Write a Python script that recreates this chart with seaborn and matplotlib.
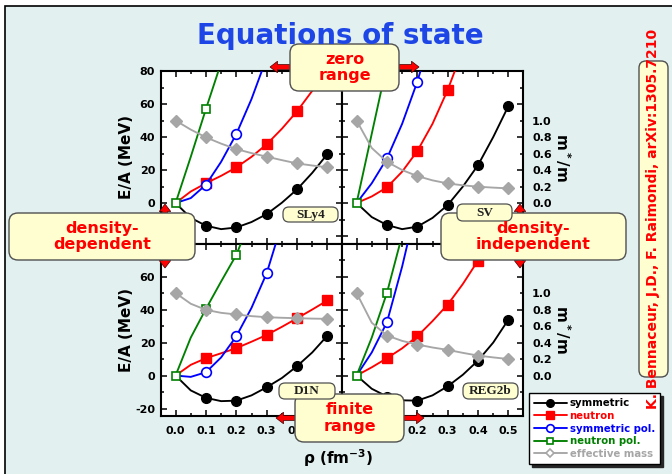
import matplotlib
matplotlib.use('Agg')
import matplotlib.pyplot as plt
import seaborn as sns
from matplotlib.patches import FancyBboxPatch, FancyArrow, Rectangle
from matplotlib.lines import Line2D
from matplotlib.ticker import MultipleLocator, FixedLocator, FormatStrFormatter

# ---------------- data ----------------
rho = [0.0, 0.05, 0.10, 0.15, 0.20, 0.25, 0.30, 0.35, 0.40, 0.45, 0.50]

sly4_sym = [0, -9, -13.7, -15.8, -14.8, -11.5, -6.7, 0.2, 8.3, 18.3, 29.7]
sly4_neu = [0, 7, 12, 16.5, 21.6, 28, 35.6, 45, 55.6, 68, 83]
sly4_sympol = [0, 3, 11.1, 25, 41.8, 63, 88, 118, 150, 185, 225]
sly4_neupol = [0, 28, 57, 85, 115, 148, 183, 220, 260, 300, 345]
sly4_mass = [1.0, 0.89, 0.796, 0.72, 0.654, 0.605, 0.562, 0.52, 0.48, 0.455, 0.433]

sv_sym = [0, -8.5, -13.3, -15.8, -14.3, -9, -1.2, 10, 23, 40, 58.8]
sv_neu = [0, 4, 9.5, 19, 31.5, 48, 68.5, 93, 120, 150, 185]
sv_sympol = [0, 12, 27, 48, 73.5, 105, 140, 180, 225, 270, 320]
sv_neupol = [0, 42, 84, 126, 168, 210, 252, 294, 336, 378, 420]
sv_mass = [1.0, 0.667, 0.50, 0.40, 0.327, 0.275, 0.238, 0.215, 0.198, 0.187, 0.178]

d1n_sym = [0, -9, -13.5, -15.5, -15.2, -12, -7.1, -1.5, 5.7, 14, 24.2]
d1n_neu = [0, 6.5, 10.5, 13.5, 16.6, 20.5, 24.6, 29.5, 34.7, 40, 45.5]
d1n_sympol = [0, -0.8, 2.0, 11, 23.8, 41, 62, 92, 125, 160, 200]
d1n_neupol = [0, 23, 40.4, 57, 73.1, 96, 115, 140, 165, 192, 220]
d1n_mass = [1.0, 0.87, 0.796, 0.76, 0.74, 0.72, 0.707, 0.70, 0.695, 0.69, 0.687]

reg_sym = [0, -8, -12.7, -15, -15.2, -12, -6.5, 0.5, 9.1, 20, 33.9]
reg_neu = [0, 5, 10.5, 16.5, 23.8, 33, 43, 55.5, 69.7, 86, 103]
reg_sympol = [0, 14, 32.3, 66, 105, 150, 200, 255, 315, 380, 450]
reg_neupol = [0, 23, 50.1, 85, 125, 170, 220, 275, 335, 400, 470]
reg_mass = [1.0, 0.64, 0.485, 0.42, 0.376, 0.34, 0.311, 0.275, 0.242, 0.22, 0.20]

model_names = ['SLy4', 'SV', 'D1N', 'REG2b']
series_labels = ['symmetric', 'neutron', 'symmetric pol.', 'neutron pol.', 'effective mass']
x_ticks = [0.0, 0.1, 0.2, 0.3, 0.4, 0.5]
mass_ticks = [0.0, 0.2, 0.4, 0.6, 0.8, 1.0]

# ---------------- style ----------------
sns.set_theme(style='ticks')
plt.rcParams['font.family'] = ['DejaVu Sans']
plt.rcParams['font.weight'] = 'bold'
plt.rcParams['axes.labelweight'] = 'bold'
plt.rcParams['mathtext.default'] = 'bf'
plt.rcParams['axes.unicode_minus'] = False

BG = '#e2f0f0'
BOXFC = '#fefed0'
BOXEC = '#505050'
RED = '#ff0000'
BLUE = '#0000ff'
GREEN = '#008000'
GRAY = '#a6a6a6'
TITLE = '#1e46e6'

W, H = 672, 474
fig = plt.figure(figsize=(W / 100, H / 100), dpi=100, facecolor='white')
T = fig.dpi_scale_trans


def fx(x):
    return x / W


def fy(y):
    return 1 - y / H


# outer frame / background
fig.add_artist(Rectangle((0.05, -0.1), 7.0, (H - 6) / 100 + 0.1, transform=T,
                         facecolor=BG, edgecolor='black', lw=1.2, zorder=-10))

# ---------------- panels ----------------
col_x = [161, 342]
row_y = [71, 243.5]
pw, ph = 181, 172.5
YMIN, YMAX = -24.5, 80
SCALE = 50.0

panels = [
    (0, 0, sly4_sym, sly4_neu, sly4_sympol, sly4_neupol, sly4_mass),
    (0, 1, sv_sym, sv_neu, sv_sympol, sv_neupol, sv_mass),
    (1, 0, d1n_sym, d1n_neu, d1n_sympol, d1n_neupol, d1n_mass),
    (1, 1, reg_sym, reg_neu, reg_sympol, reg_neupol, reg_mass),
]

lw = 1.35
for (r, c, sym, neu, spol, npol, mass) in panels:
    ax = fig.add_axes([fx(col_x[c]), fy(row_y[r] + ph), pw / W, ph / H])
    ax.set_facecolor('white')
    sns.lineplot(x=rho, y=sym, ax=ax, color='black', linewidth=lw, marker='o',
                 markersize=7, markevery=slice(2, None, 2), markeredgecolor='black',
                 markerfacecolor='black', markeredgewidth=1, legend=False, zorder=2)
    sns.lineplot(x=rho, y=neu, ax=ax, color=RED, linewidth=lw, marker='s',
                 markersize=7, markevery=slice(2, None, 2), markeredgecolor=RED,
                 markerfacecolor=RED, markeredgewidth=1, legend=False, zorder=3)
    sns.lineplot(x=rho, y=spol, ax=ax, color=BLUE, linewidth=lw, marker='o',
                 markersize=7, markevery=slice(2, None, 2), markeredgecolor=BLUE,
                 markerfacecolor='white', markeredgewidth=1.2, legend=False, zorder=4)
    sns.lineplot(x=rho, y=npol, ax=ax, color=GREEN, linewidth=lw, marker='s',
                 markersize=6, markevery=slice(0, None, 2), markeredgecolor=GREEN,
                 markerfacecolor='white', markeredgewidth=1.2, legend=False, zorder=5)
    ax.set_xlim(-0.048, 0.548)
    ax.set_ylim(YMIN, YMAX)
    ax.set_xlabel('')
    ax.set_ylabel('')

    tw = ax.twinx()
    sns.lineplot(x=rho, y=mass, ax=tw, color=GRAY, linewidth=lw, marker='D',
                 markersize=6.3, markevery=slice(0, None, 2), markeredgecolor=GRAY,
                 markerfacecolor=GRAY, markeredgewidth=1, legend=False, zorder=6)
    tw.set_ylim(YMIN / SCALE, YMAX / SCALE)
    tw.set_xlim(-0.048, 0.548)
    for s in tw.spines.values():
        s.set_visible(False)
    tw.tick_params(axis='y', which='both', length=0, labelsize=8, pad=6.5,
                   labelcolor='black')
    if c == 1:
        tw.yaxis.set_major_locator(FixedLocator(mass_ticks))
        tw.yaxis.set_major_formatter(FormatStrFormatter('%.1f'))
        tw.set_ylabel('m$^*$/m', rotation=270, fontsize=11, fontweight='bold',
                      labelpad=15, color='black')
    else:
        tw.set_yticks([])
        tw.set_ylabel('')

    # primary axis styling (after twinx)
    for s in ax.spines.values():
        s.set_visible(True)
        s.set_color('black')
        s.set_linewidth(1.5)
    ax.xaxis.set_major_locator(FixedLocator(x_ticks))
    ax.xaxis.set_minor_locator(MultipleLocator(0.05))
    ax.xaxis.set_major_formatter(FormatStrFormatter('%.1f'))
    ax.yaxis.set_major_locator(MultipleLocator(20))
    ax.yaxis.set_minor_locator(MultipleLocator(10))
    ax.tick_params(which='both', direction='in', top=True, right=True,
                   bottom=True, left=True, width=1.1, color='black',
                   labelcolor='black', labelsize=8)
    ax.tick_params(which='major', length=4)
    ax.tick_params(which='minor', length=2.5)
    ax.tick_params(axis='x', pad=7)
    ax.tick_params(axis='y', pad=4.3)
    if r == 0:
        ax.tick_params(labelbottom=False)
    if c == 1:
        ax.tick_params(labelleft=False)
    else:
        ax.set_ylabel('E/A (MeV)', fontsize=11, fontweight='bold', labelpad=1,
                      color='black')

# ---------------- figure texts / decorations ----------------
fig.text(fx(340), fy(44), 'Equations of state', ha='center', va='baseline',
         fontsize=20, fontweight='bold', color=TITLE, zorder=12)
fig.text(fx(338), fy(458), r'ρ (fm$^{-3}$)', ha='center', va='center',
         fontsize=11, fontweight='bold', color='black', zorder=12)


def rbox(x0, y0, x1, y1, rr=0.07, fc=BOXFC, ec=BOXEC, lwid=1.0, z=10):
    p = FancyBboxPatch((x0 / 100, (H - y1) / 100), (x1 - x0) / 100, (y1 - y0) / 100,
                       boxstyle='round,pad=0,rounding_size=%f' % rr, transform=T,
                       facecolor=fc, edgecolor=ec, lw=lwid, zorder=z)
    fig.add_artist(p)


def arrow(x0, y0, x1, y1):
    a = FancyArrow(x0 / 100, (H - y0) / 100, (x1 - x0) / 100, -(y1 - y0) / 100,
                   width=0.05, head_width=0.115, head_length=0.075,
                   length_includes_head=True, transform=T, facecolor=RED,
                   edgecolor='#400000', lw=0.5, zorder=9)
    fig.add_artist(a)


# arrows
arrow(290, 67, 270, 67)
arrow(399, 67, 419, 67)
arrow(165, 223, 165, 204)
arrow(165, 248, 165, 268)
arrow(520, 223, 520, 204)
arrow(520, 248, 520, 268)
arrow(296, 418, 276, 418)
arrow(403, 418, 424, 418)

# big boxes
boxes = [
    (290, 44, 399, 91, 'zero\nrange'),
    (9, 213, 195, 260, 'density-\ndependent'),
    (441, 213, 626, 260, 'density-\nindependent'),
    (295, 394, 404, 442, 'finite\nrange'),
]
for (x0, y0, x1, y1, txt) in boxes:
    rbox(x0, y0, x1, y1, rr=0.09)
    fig.text(fx((x0 + x1) / 2), fy((y0 + y1) / 2), txt, ha='center', va='center',
             multialignment='center', fontsize=11.5, fontweight='bold', color=RED,
             linespacing=1.15, zorder=12)

# model tags
tags = [(283, 207, 338, 222), (457, 204, 512, 221), (279, 383, 335, 399), (463, 383, 518, 399)]
for (x0, y0, x1, y1), name in zip(tags, model_names):
    rbox(x0, y0, x1, y1, rr=0.06, lwid=0.9)
    fig.text(fx((x0 + x1) / 2), fy((y0 + y1) / 2 + 0.5), name, ha='center', va='center',
             fontfamily='Liberation Serif', fontsize=9.5, fontweight='bold',
             color='#202020', zorder=12)

# citation box
rbox(639, 61, 668, 377, rr=0.07)

# legend
handles = [
    Line2D([], [], color='black', lw=lw, marker='o', ms=5.5, mfc='black', mec='black'),
    Line2D([], [], color=RED, lw=lw, marker='s', ms=5.5, mfc=RED, mec=RED),
    Line2D([], [], color=BLUE, lw=lw, marker='o', ms=5.5, mfc='white', mec=BLUE, mew=1.2),
    Line2D([], [], color=GREEN, lw=lw, marker='s', ms=5, mfc='white', mec=GREEN, mew=1.2),
    Line2D([], [], color=GRAY, lw=lw, marker='D', ms=4.5, mfc='white', mec=GRAY, mew=1.2),
]
leg = fig.legend(handles, series_labels, loc='upper left',
                 bbox_to_anchor=(fx(529), fy(393)), borderaxespad=0, frameon=True,
                 fancybox=False, edgecolor='black', facecolor='white', framealpha=1,
                 prop={'weight': 'bold', 'size': 7.3}, handlelength=3.2,
                 handletextpad=0.3, labelspacing=0.27, borderpad=0.5,
                 labelcolor='linecolor', shadow={'color': '0.15', 'alpha': 1})
leg.get_frame().set_linewidth(1.0)
leg.set_zorder(12)

# citation text (drawn above the legend, as in the reference)
fig.text(fx(653), fy(219), 'K. Bennaceur, J.D., F. Raimondi, arXiv:1305.7210',
         rotation=90, ha='center', va='center', fontsize=10, fontweight='bold',
         color=RED, zorder=14)

fig.savefig('out.png', dpi=100, facecolor='white')
